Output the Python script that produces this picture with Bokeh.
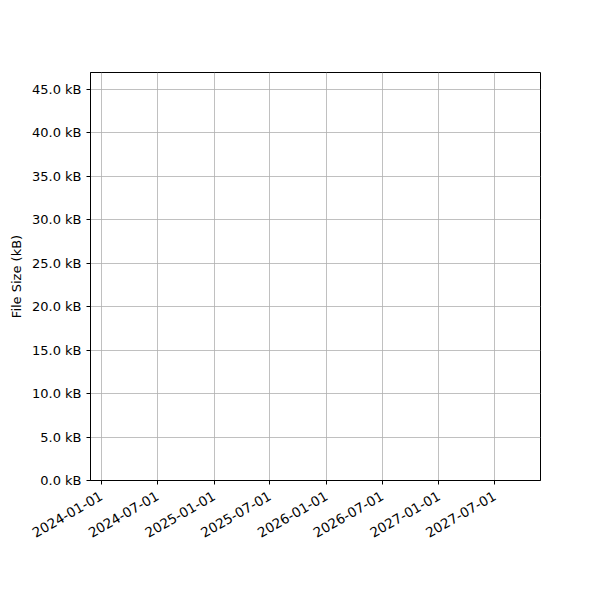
import math
from datetime import datetime

from bokeh.plotting import figure
from bokeh.models import Range1d, FixedTicker, DatetimeTickFormatter, PrintfTickFormatter
from bokeh.embed import file_html
from bokeh.resources import INLINE

# x-axis: dates shown as ticks, no data drawn in the chart
tick_dates = ["2024-01-01", "2024-07-01", "2025-01-01", "2025-07-01",
              "2026-01-01", "2026-07-01", "2027-01-01", "2027-07-01"]
x_start, x_end = "2023-11-27", "2027-11-27"

# y-axis: file size in kB
y_ticks = [0, 5, 10, 15, 20, 25, 30, 35, 40, 45]
y_start, y_end = 0, 46.9


def ms(s):
    return datetime.strptime(s, "%Y-%m-%d").timestamp() * 1000


p = figure(
    width=584, height=584,
    x_axis_type="datetime",
    x_range=Range1d(ms(x_start), ms(x_end)),
    y_range=Range1d(y_start, y_end),
    y_axis_label="File Size (kB)",
    output_backend="svg", toolbar_location=None,
    min_border_left=90, min_border_right=44,
    min_border_top=72, min_border_bottom=104,
)

p.outline_line_color = "black"
p.outline_line_alpha = 1.0
p.outline_line_width = 1

p.xaxis.ticker = FixedTicker(ticks=[ms(d) for d in tick_dates])
p.xaxis.formatter = DatetimeTickFormatter(
    days="%Y-%m-%d", months="%Y-%m-%d", years="%Y-%m-%d")
p.xaxis.major_label_orientation = math.pi / 6

p.yaxis.ticker = FixedTicker(ticks=y_ticks)
p.yaxis.formatter = PrintfTickFormatter(format="%.1f kB")

for ax in (p.xaxis, p.yaxis):
    ax.axis_line_color = "black"
    ax.major_tick_line_color = "black"
    ax.major_tick_out = 4
    ax.major_tick_in = 0
    ax.minor_tick_line_color = None
    ax.major_label_text_font = "DejaVu Sans"
    ax.major_label_text_font_size = "13px"
    ax.major_label_text_color = "black"
    ax.major_label_standoff = 5
    ax.axis_label_text_font = "DejaVu Sans"
    ax.axis_label_text_font_size = "13px"
    ax.axis_label_text_font_style = "normal"
    ax.axis_label_text_color = "black"

p.xaxis.major_label_text_font_size = "13.5px"
p.xaxis.major_label_standoff = 10
p.yaxis.axis_label_standoff = 5

p.grid.grid_line_color = "#b0b0b0"
p.grid.grid_line_width = 0.8

open("out.html", "w").write(file_html(p, INLINE))
